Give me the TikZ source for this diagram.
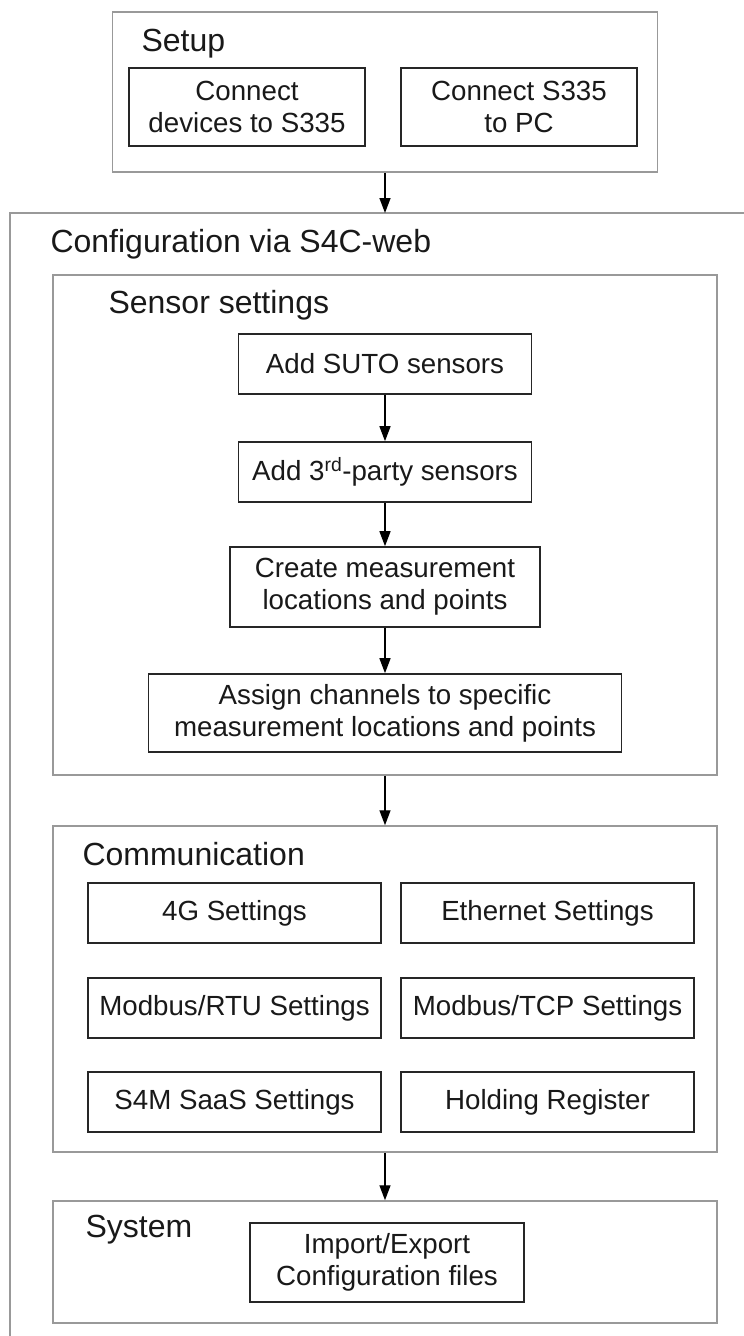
\documentclass[tikz,border=0pt]{standalone}
\usepackage{fontspec}
\setmainfont{Liberation Sans}
\usepackage{tikz}
\usetikzlibrary{arrows.meta,positioning}

\tikzset{
	grp/.style={draw=black!40, line width=1.5pt},
	grpbox/.style={grp, rectangle, inner sep=0pt},
	hd/.style={anchor=base west, text=black!90, font=\fontsize{32}{38}\selectfont},
	stepbox/.style={draw=black!85, line width=1.6pt, fill=white, align=center, inner sep=4pt,
		text=black!90, font=\fontsize{27.7}{32}\selectfont},
	flow/.style={line width=1.4pt, -{Triangle[length=15pt,width=11pt]}}
}

\begin{document}
\begin{tikzpicture}[x=1pt,y=-1pt]
	\useasboundingbox (0,0) rectangle (744,1336);

	% Setup
	\node[grpbox, minimum width=545pt, minimum height=160pt] (setup) at (385,92) {};
	\node[hd] (setuplbl) at (138,51) {Setup};
	\node[stepbox, minimum width=236pt, minimum height=78pt] (devs) at (247,107) {Connect\\devices to S335};
	\node[stepbox, minimum width=236pt, minimum height=78pt] (topc) at (519,107) {Connect S335\\to PC};

	% Configuration via S4C-web (open frame)
	\draw[grp] (744,213) -- (10,213) -- (10,1336);
	\coordinate (cfgtop) at (385,213);
	\node[hd] (cfglbl) at (47,252) {Configuration via S4C-web};
	\draw[flow] (setup) -- (cfgtop);

	% Sensor settings
	\node[grpbox, minimum width=664pt, minimum height=500pt] (sensor) at (385,525) {};
	\node[hd] (sensorlbl) at (105,313) {Sensor settings};
	\node[stepbox, minimum width=293pt, minimum height=60pt] (suto) at (385,364) {Add SUTO sensors};
	\node[stepbox, minimum width=293pt, minimum height=60pt] (third) at (385,472) {Add 3\textsuperscript{rd}-party sensors};
	\node[stepbox, minimum width=310pt, minimum height=80pt] (create) at (385,587) {Create measurement\\locations and points};
	\node[stepbox, minimum width=473pt, minimum height=78pt] (assign) at (385,713) {Assign channels to specific\\measurement locations and points};
	\draw[flow] (suto) -- (third);
	\draw[flow] (third) -- (create);
	\draw[flow] (create) -- (assign);

	% Communication
	\node[grpbox, minimum width=664pt, minimum height=326pt] (comm) at (385,989) {};
	\node[hd] (commlbl) at (79,865) {Communication};
	\node[stepbox, minimum width=293pt, minimum height=60pt] (fourg) at (234.5,913) {4G Settings};
	\node[stepbox, minimum width=293pt, minimum height=60pt] (eth) at (547.5,913) {Ethernet Settings};
	\node[stepbox, minimum width=293pt, minimum height=60pt] (rtu) at (234.5,1008) {Modbus/RTU Settings};
	\node[stepbox, minimum width=293pt, minimum height=60pt] (tcp) at (547.5,1008) {Modbus/TCP Settings};
	\node[stepbox, minimum width=293pt, minimum height=60pt] (saas) at (234.5,1102) {S4M SaaS Settings};
	\node[stepbox, minimum width=293pt, minimum height=60pt] (hold) at (547.5,1102) {Holding Register};
	\draw[flow] (sensor) -- (comm);

	% System
	\node[grpbox, minimum width=664pt, minimum height=122pt] (sys) at (385,1262) {};
	\node[hd] (syslbl) at (82,1237) {System};
	\node[stepbox, minimum width=274pt, minimum height=79pt] (impexp) at (387,1262.5) {Import/Export\\Configuration files};
	\draw[flow] (comm) -- (sys);
\end{tikzpicture}
\end{document}
